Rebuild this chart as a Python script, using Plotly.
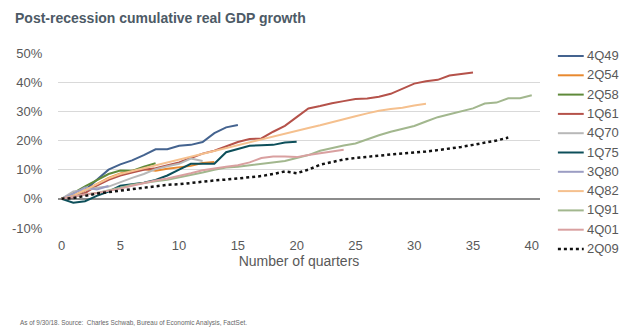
import plotly.graph_objects as go

names = ["4Q49", "2Q54", "2Q58", "1Q61", "4Q70", "1Q75", "3Q80", "4Q82", "1Q91", "4Q01", "2Q09"]

g_4Q49 = [0, 0.5, 3, 6.5, 10, 11.8, 13.2, 15, 17, 17, 18.2, 18.5, 19.5, 22.5, 24.5, 25.3]
g_2Q54 = [0, 1.1, 2.9, 5.2, 7.2, 8.7, 9.6, 10.2, 9.6, 10.3, 10.9, 11.3, 12.3, 12.6]
g_2Q58 = [0, 2.0, 4.3, 6.5, 8.5, 9.7, 9.6, 11.0, 12.2]
g_1Q61 = [0, 0.5, 2, 4.5, 6.5, 8, 9, 10, 10.5, 11.5, 12.5, 14, 15.5, 16.5, 18, 19.5, 20.5, 20.7,
          23, 25, 28, 31, 31.8, 32.8, 33.5, 34.2, 34.4, 35, 36, 37.8, 39.5, 40.3, 40.8, 42.3, 42.8, 43.3]
g_4Q70 = [0, 2.5, 3, 3.8, 4.2, 5.8, 7.2, 8.5, 10.2, 11.2, 12, 13.8, 13]
g_1Q75 = [0, -1.3, -0.8, 1, 2.5, 4.5, 5, 5.5, 6.5, 8, 10, 12, 12, 12, 16, 17, 18.2, 18.4, 18.5, 19.3, 19.6]
g_3Q80 = [0, 1.8, 3.9, 3.2, 4.4]
g_4Q82 = [0, 1, 3, 5, 7, 8.5, 9.5, 10.5, 11.5, 12.3, 13.5, 14.5, 15.5, 16.5, 17.5, 18.5, 19.5, 20.5,
          21.5, 22.3, 23.3, 24.3, 25.2, 26.3, 27.2, 28.3, 29.3, 30.2, 30.8, 31.2, 32, 32.6]
g_1Q91 = [0, 0.8, 1.5, 2, 2.8, 3.8, 4.8, 5.5, 6, 6.5, 7.3, 8, 9, 10, 10.7, 11, 11.5, 12, 12.5, 13, 14,
          15, 16.5, 17.5, 18.3, 19, 20.5, 21.8, 23, 24, 25, 26.5, 28, 29, 30, 31, 32.7, 33, 34.5, 34.5, 35.5]
g_4Q01 = [0, 0.8, 1.5, 2, 2.7, 3.5, 4.5, 5.5, 6.3, 7, 7.8, 8.8, 9.8, 10.5, 11, 11.5, 12.5, 14, 14.5,
          14.5, 14.3, 15, 15.5, 16.2, 16.8]
g_2Q09 = [0, 0.3, 1, 1.8, 2.3, 2.8, 3.3, 4, 4.5, 4.8, 5, 5.5, 6, 6.3, 6.6, 7, 7.3, 7.8, 8.5, 9.4, 8.8,
          10, 11.7, 12.5, 13.5, 14, 14.5, 14.8, 15.2, 15.5, 15.8, 16.2, 16.7, 17.2, 17.8, 18.5, 19.2, 20, 21]

series = [g_4Q49, g_2Q54, g_2Q58, g_1Q61, g_4Q70, g_1Q75, g_3Q80, g_4Q82, g_1Q91, g_4Q01, g_2Q09]
colors = ["#44638f", "#e8892f", "#5f8a3a", "#b5524a", "#b8b8b8", "#0d4f5a",
          "#9b9dc3", "#f5c08e", "#a2b78e", "#d9a0a0", "#111111"]

x_ticks = [0, 5, 10, 15, 20, 25, 30, 35, 40]
y_ticks = [-10, 0, 10, 20, 30, 40, 50]
y_labels = ["-10%", "0%", "10%", "20%", "30%", "40%", "50%"]

# plot-area geometry (pixels) used to place the custom legend in paper coordinates
W, H = 640, 331
L, R, T, B = 55, 100, 53, 103
pw, ph = W - L - R, H - T - B


def px_x(p):
    return (p - L) / pw


def px_y(p):
    return (H - B - p) / ph


fig = go.Figure()
shapes = []
annotations = []
for i, (name, vals, col) in enumerate(zip(names, series, colors)):
    dotted = name == "2Q09"
    dash = "dot" if dotted else "solid"
    lw = 2.5 if dotted else 2
    fig.add_trace(go.Scatter(
        x=list(range(len(vals))), y=vals, name=name, mode="lines",
        line=dict(color=col, width=lw, dash=dash), showlegend=False,
    ))
    yc = 56 + 19.3 * i
    shapes.append(dict(type="line", xref="paper", yref="paper",
                       x0=px_x(558), x1=px_x(584), y0=px_y(yc), y1=px_y(yc),
                       line=dict(color=col, width=lw, dash=dash)))
    annotations.append(dict(text=name, xref="paper", yref="paper",
                            x=px_x(585), y=px_y(yc - 0.5), xanchor="left", yanchor="middle",
                            showarrow=False, font=dict(size=13, color="#595959")))

annotations.append(dict(text="As of 9/30/18. Source:  Charles Schwab, Bureau of Economic Analysis, FactSet.",
                        xref="paper", yref="paper", x=px_x(15), y=px_y(323),
                        xanchor="left", yanchor="middle", showarrow=False,
                        font=dict(size=6.4, color="#666666")))

fig.update_layout(
    width=W, height=H,
    margin=dict(l=L, r=R, t=T, b=B),
    paper_bgcolor="white", plot_bgcolor="white",
    font=dict(family="Liberation Sans, Arial, sans-serif", color="#595959", size=13),
    title=dict(text="<b>Post-recession cumulative real GDP growth</b>",
               x=15 / W, xanchor="left", xref="container",
               y=1 - 18 / H, yanchor="middle", yref="container",
               font=dict(size=14, color="#4d5a66")),
    showlegend=False,
    xaxis=dict(range=[-0.3, 40.7], tickvals=x_ticks, showgrid=False, zeroline=False,
               ticks="outside", ticklen=5, tickcolor="rgba(0,0,0,0)",
               title=dict(text="Number of quarters", font=dict(size=14), standoff=2),
               tickfont=dict(size=13)),
    yaxis=dict(range=[-10, 50], tickvals=y_ticks, ticktext=y_labels,
               showgrid=True, gridcolor="#d9d9d9", gridwidth=1,
               zeroline=True, zerolinecolor="#8c8c8c", zerolinewidth=1.5,
               ticks="outside", ticklen=12, tickcolor="rgba(0,0,0,0)",
               tickfont=dict(size=13)),
    shapes=shapes,
    annotations=annotations,
)

fig.write_html("out.html")
